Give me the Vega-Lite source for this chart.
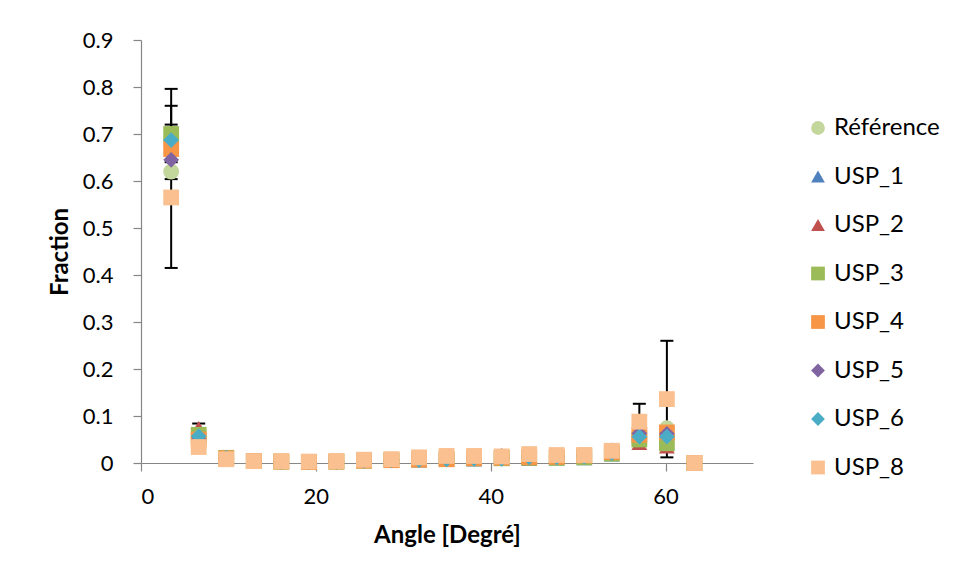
{
  "$schema": "https://vega.github.io/schema/vega-lite/v6.json",
  "autosize": {"type": "none"},
  "padding": {"left": 141, "top": 40, "right": 203, "bottom": 116},
  "width": 612,
  "height": 423,
  "background": "white",
  "config": {
    "view": {"stroke": null},
    "font": "Lato",
    "axis": {
      "domainColor": "#868686",
      "tickColor": "#868686",
      "domainWidth": 1.2,
      "tickWidth": 1.2,
      "tickSize": 8,
      "grid": false,
      "labelFont": "Lato",
      "labelFontSize": 22,
      "labelColor": "#000000",
      "titleFont": "Lato",
      "titleFontSize": 24,
      "titleFontWeight": "bold",
      "titleColor": "#000000"
    },
    "legend": {
      "labelFont": "Lato",
      "labelFontSize": 24,
      "labelColor": "#000000"
    }
  },
  "datasets": {
    "points": [
      {"series": "Référence", "angle": 3.45, "fraction": 0.62},
      {"series": "Référence", "angle": 6.6, "fraction": 0.05},
      {"series": "Référence", "angle": 9.75, "fraction": 0.01},
      {"series": "Référence", "angle": 12.9, "fraction": 0.004},
      {"series": "Référence", "angle": 16.05, "fraction": 0.003},
      {"series": "Référence", "angle": 19.2, "fraction": 0.002},
      {"series": "Référence", "angle": 22.35, "fraction": 0.003},
      {"series": "Référence", "angle": 25.5, "fraction": 0.005},
      {"series": "Référence", "angle": 28.65, "fraction": 0.006},
      {"series": "Référence", "angle": 31.8, "fraction": 0.007},
      {"series": "Référence", "angle": 34.95, "fraction": 0.009},
      {"series": "Référence", "angle": 38.1, "fraction": 0.01},
      {"series": "Référence", "angle": 41.25, "fraction": 0.011},
      {"series": "Référence", "angle": 44.4, "fraction": 0.013},
      {"series": "Référence", "angle": 47.55, "fraction": 0.012},
      {"series": "Référence", "angle": 50.7, "fraction": 0.014},
      {"series": "Référence", "angle": 53.85, "fraction": 0.022},
      {"series": "Référence", "angle": 57.0, "fraction": 0.055},
      {"series": "Référence", "angle": 60.15, "fraction": 0.074},
      {"series": "Référence", "angle": 63.3, "fraction": 0},
      {"series": "USP_1", "angle": 3.45, "fraction": 0.69},
      {"series": "USP_1", "angle": 6.6, "fraction": 0.055},
      {"series": "USP_1", "angle": 9.75, "fraction": 0.011},
      {"series": "USP_1", "angle": 12.9, "fraction": 0.004},
      {"series": "USP_1", "angle": 16.05, "fraction": 0.003},
      {"series": "USP_1", "angle": 19.2, "fraction": 0.002},
      {"series": "USP_1", "angle": 22.35, "fraction": 0.003},
      {"series": "USP_1", "angle": 25.5, "fraction": 0.004},
      {"series": "USP_1", "angle": 28.65, "fraction": 0.005},
      {"series": "USP_1", "angle": 31.8, "fraction": 0.005},
      {"series": "USP_1", "angle": 34.95, "fraction": 0.006},
      {"series": "USP_1", "angle": 38.1, "fraction": 0.007},
      {"series": "USP_1", "angle": 41.25, "fraction": 0.008},
      {"series": "USP_1", "angle": 44.4, "fraction": 0.008},
      {"series": "USP_1", "angle": 47.55, "fraction": 0.009},
      {"series": "USP_1", "angle": 50.7, "fraction": 0.01},
      {"series": "USP_1", "angle": 53.85, "fraction": 0.018},
      {"series": "USP_1", "angle": 57.0, "fraction": 0.055},
      {"series": "USP_1", "angle": 60.15, "fraction": 0.05},
      {"series": "USP_1", "angle": 63.3, "fraction": 0},
      {"series": "USP_2", "angle": 3.45, "fraction": 0.7},
      {"series": "USP_2", "angle": 6.6, "fraction": 0.075},
      {"series": "USP_2", "angle": 9.75, "fraction": 0.012},
      {"series": "USP_2", "angle": 12.9, "fraction": 0.004},
      {"series": "USP_2", "angle": 16.05, "fraction": 0.003},
      {"series": "USP_2", "angle": 19.2, "fraction": 0.002},
      {"series": "USP_2", "angle": 22.35, "fraction": 0.003},
      {"series": "USP_2", "angle": 25.5, "fraction": 0.005},
      {"series": "USP_2", "angle": 28.65, "fraction": 0.006},
      {"series": "USP_2", "angle": 31.8, "fraction": 0.008},
      {"series": "USP_2", "angle": 34.95, "fraction": 0.01},
      {"series": "USP_2", "angle": 38.1, "fraction": 0.011},
      {"series": "USP_2", "angle": 41.25, "fraction": 0.012},
      {"series": "USP_2", "angle": 44.4, "fraction": 0.013},
      {"series": "USP_2", "angle": 47.55, "fraction": 0.013},
      {"series": "USP_2", "angle": 50.7, "fraction": 0.017},
      {"series": "USP_2", "angle": 53.85, "fraction": 0.024},
      {"series": "USP_2", "angle": 57.0, "fraction": 0.042},
      {"series": "USP_2", "angle": 60.15, "fraction": 0.035},
      {"series": "USP_2", "angle": 63.3, "fraction": 0},
      {"series": "USP_3", "angle": 3.45, "fraction": 0.7},
      {"series": "USP_3", "angle": 6.6, "fraction": 0.06},
      {"series": "USP_3", "angle": 9.75, "fraction": 0.011},
      {"series": "USP_3", "angle": 12.9, "fraction": 0.004},
      {"series": "USP_3", "angle": 16.05, "fraction": 0.003},
      {"series": "USP_3", "angle": 19.2, "fraction": 0.002},
      {"series": "USP_3", "angle": 22.35, "fraction": 0.003},
      {"series": "USP_3", "angle": 25.5, "fraction": 0.005},
      {"series": "USP_3", "angle": 28.65, "fraction": 0.007},
      {"series": "USP_3", "angle": 31.8, "fraction": 0.008},
      {"series": "USP_3", "angle": 34.95, "fraction": 0.009},
      {"series": "USP_3", "angle": 38.1, "fraction": 0.01},
      {"series": "USP_3", "angle": 41.25, "fraction": 0.01},
      {"series": "USP_3", "angle": 44.4, "fraction": 0.011},
      {"series": "USP_3", "angle": 47.55, "fraction": 0.011},
      {"series": "USP_3", "angle": 50.7, "fraction": 0.012},
      {"series": "USP_3", "angle": 53.85, "fraction": 0.02},
      {"series": "USP_3", "angle": 57.0, "fraction": 0.05},
      {"series": "USP_3", "angle": 60.15, "fraction": 0.042},
      {"series": "USP_3", "angle": 63.3, "fraction": 0},
      {"series": "USP_4", "angle": 3.45, "fraction": 0.668},
      {"series": "USP_4", "angle": 6.6, "fraction": 0.05},
      {"series": "USP_4", "angle": 9.75, "fraction": 0.01},
      {"series": "USP_4", "angle": 12.9, "fraction": 0.004},
      {"series": "USP_4", "angle": 16.05, "fraction": 0.003},
      {"series": "USP_4", "angle": 19.2, "fraction": 0.002},
      {"series": "USP_4", "angle": 22.35, "fraction": 0.003},
      {"series": "USP_4", "angle": 25.5, "fraction": 0.005},
      {"series": "USP_4", "angle": 28.65, "fraction": 0.006},
      {"series": "USP_4", "angle": 31.8, "fraction": 0.007},
      {"series": "USP_4", "angle": 34.95, "fraction": 0.008},
      {"series": "USP_4", "angle": 38.1, "fraction": 0.01},
      {"series": "USP_4", "angle": 41.25, "fraction": 0.011},
      {"series": "USP_4", "angle": 44.4, "fraction": 0.012},
      {"series": "USP_4", "angle": 47.55, "fraction": 0.013},
      {"series": "USP_4", "angle": 50.7, "fraction": 0.016},
      {"series": "USP_4", "angle": 53.85, "fraction": 0.023},
      {"series": "USP_4", "angle": 57.0, "fraction": 0.06},
      {"series": "USP_4", "angle": 60.15, "fraction": 0.065},
      {"series": "USP_4", "angle": 63.3, "fraction": 0},
      {"series": "USP_5", "angle": 3.45, "fraction": 0.645},
      {"series": "USP_5", "angle": 6.6, "fraction": 0.05},
      {"series": "USP_5", "angle": 9.75, "fraction": 0.01},
      {"series": "USP_5", "angle": 12.9, "fraction": 0.004},
      {"series": "USP_5", "angle": 16.05, "fraction": 0.003},
      {"series": "USP_5", "angle": 19.2, "fraction": 0.002},
      {"series": "USP_5", "angle": 22.35, "fraction": 0.003},
      {"series": "USP_5", "angle": 25.5, "fraction": 0.005},
      {"series": "USP_5", "angle": 28.65, "fraction": 0.006},
      {"series": "USP_5", "angle": 31.8, "fraction": 0.008},
      {"series": "USP_5", "angle": 34.95, "fraction": 0.01},
      {"series": "USP_5", "angle": 38.1, "fraction": 0.013},
      {"series": "USP_5", "angle": 41.25, "fraction": 0.015},
      {"series": "USP_5", "angle": 44.4, "fraction": 0.014},
      {"series": "USP_5", "angle": 47.55, "fraction": 0.014},
      {"series": "USP_5", "angle": 50.7, "fraction": 0.016},
      {"series": "USP_5", "angle": 53.85, "fraction": 0.027},
      {"series": "USP_5", "angle": 57.0, "fraction": 0.063},
      {"series": "USP_5", "angle": 60.15, "fraction": 0.062},
      {"series": "USP_5", "angle": 63.3, "fraction": 0},
      {"series": "USP_6", "angle": 3.45, "fraction": 0.687},
      {"series": "USP_6", "angle": 6.6, "fraction": 0.057},
      {"series": "USP_6", "angle": 9.75, "fraction": 0.011},
      {"series": "USP_6", "angle": 12.9, "fraction": 0.004},
      {"series": "USP_6", "angle": 16.05, "fraction": 0.003},
      {"series": "USP_6", "angle": 19.2, "fraction": 0.002},
      {"series": "USP_6", "angle": 22.35, "fraction": 0.003},
      {"series": "USP_6", "angle": 25.5, "fraction": 0.005},
      {"series": "USP_6", "angle": 28.65, "fraction": 0.006},
      {"series": "USP_6", "angle": 31.8, "fraction": 0.006},
      {"series": "USP_6", "angle": 34.95, "fraction": 0.008},
      {"series": "USP_6", "angle": 38.1, "fraction": 0.009},
      {"series": "USP_6", "angle": 41.25, "fraction": 0.009},
      {"series": "USP_6", "angle": 44.4, "fraction": 0.012},
      {"series": "USP_6", "angle": 47.55, "fraction": 0.012},
      {"series": "USP_6", "angle": 50.7, "fraction": 0.013},
      {"series": "USP_6", "angle": 53.85, "fraction": 0.021},
      {"series": "USP_6", "angle": 57.0, "fraction": 0.056},
      {"series": "USP_6", "angle": 60.15, "fraction": 0.056},
      {"series": "USP_6", "angle": 63.3, "fraction": 0},
      {"series": "USP_8", "angle": 3.45, "fraction": 0.565},
      {"series": "USP_8", "angle": 6.6, "fraction": 0.034},
      {"series": "USP_8", "angle": 9.75, "fraction": 0.008},
      {"series": "USP_8", "angle": 12.9, "fraction": 0.004},
      {"series": "USP_8", "angle": 16.05, "fraction": 0.004},
      {"series": "USP_8", "angle": 19.2, "fraction": 0.003},
      {"series": "USP_8", "angle": 22.35, "fraction": 0.004},
      {"series": "USP_8", "angle": 25.5, "fraction": 0.007},
      {"series": "USP_8", "angle": 28.65, "fraction": 0.008},
      {"series": "USP_8", "angle": 31.8, "fraction": 0.012},
      {"series": "USP_8", "angle": 34.95, "fraction": 0.015},
      {"series": "USP_8", "angle": 38.1, "fraction": 0.015},
      {"series": "USP_8", "angle": 41.25, "fraction": 0.014},
      {"series": "USP_8", "angle": 44.4, "fraction": 0.019},
      {"series": "USP_8", "angle": 47.55, "fraction": 0.017},
      {"series": "USP_8", "angle": 50.7, "fraction": 0.017},
      {"series": "USP_8", "angle": 53.85, "fraction": 0.026},
      {"series": "USP_8", "angle": 57.0, "fraction": 0.088},
      {"series": "USP_8", "angle": 60.15, "fraction": 0.136},
      {"series": "USP_8", "angle": 63.3, "fraction": 0}
    ],
    "errors": [
      {"series": "USP_3", "angle": 3.45, "lo": 0.604, "hi": 0.796},
      {"series": "USP_2", "angle": 3.45, "lo": 0.64, "hi": 0.76},
      {"series": "USP_8", "angle": 3.45, "lo": 0.415, "hi": 0.72},
      {"series": "USP_2", "angle": 6.6, "lo": 0.066, "hi": 0.084},
      {"series": "USP_8", "angle": 57.0, "lo": 0.05, "hi": 0.126},
      {"series": "USP_8", "angle": 60.15, "lo": 0.012, "hi": 0.26}
    ]
  },
  "layer": [
    {
      "data": {"name": "errors"},
      "mark": {"type": "rule", "color": "#000000", "strokeWidth": 2},
      "encoding": {
        "x": {"field": "angle", "type": "quantitative", "scale": {"domain": [0, 70], "nice": false}},
        "y": {"field": "lo", "type": "quantitative", "scale": {"domain": [0, 0.9], "nice": false}},
        "y2": {"field": "hi"}
      }
    },
    {
      "data": {"name": "errors"},
      "mark": {"type": "tick", "color": "#000000", "orient": "horizontal", "size": 13, "thickness": 2, "opacity": 1},
      "encoding": {
        "x": {"field": "angle", "type": "quantitative"},
        "y": {"field": "lo", "type": "quantitative"}
      }
    },
    {
      "data": {"name": "errors"},
      "mark": {"type": "tick", "color": "#000000", "orient": "horizontal", "size": 13, "thickness": 2, "opacity": 1},
      "encoding": {
        "x": {"field": "angle", "type": "quantitative"},
        "y": {"field": "hi", "type": "quantitative"}
      }
    },
    {
      "data": {"name": "points"},
      "mark": {"type": "point", "filled": true, "opacity": 1, "size": 250, "strokeWidth": 0},
      "encoding": {
        "x": {
          "field": "angle", "type": "quantitative",
          "scale": {"domain": [0, 70], "nice": false},
          "axis": {"values": [0, 20, 40, 60], "title": "Angle [Degré]", "labelPadding": 15, "titlePadding": 16}
        },
        "y": {
          "field": "fraction", "type": "quantitative",
          "scale": {"domain": [0, 0.9], "nice": false},
          "axis": {
            "values": [0, 0.1, 0.2, 0.3, 0.4, 0.5, 0.6, 0.7, 0.8, 0.9],
            "labelExpr": "datum.value == 0 ? '0' : format(datum.value, '.1f')",
            "title": "Fraction",
            "labelPadding": 20,
            "titlePadding": 10
          }
        },
        "color": {
          "field": "series", "type": "nominal",
          "scale": {
            "domain": ["Référence", "USP_1", "USP_2", "USP_3", "USP_4", "USP_5", "USP_6", "USP_8"],
            "range": ["#C3D69B", "#4F81BD", "#C0504D", "#9BBB59", "#F79646", "#8064A2", "#4BACC6", "#FAC090"]
          },
          "legend": {
            "title": null,
            "orient": "none",
            "legendX": 665,
            "legendY": 76,
            "padding": 0,
            "rowPadding": 24.5,
            "symbolSize": 190,
            "labelOffset": 4,
            "symbolStrokeWidth": 0
          }
        },
        "shape": {
          "field": "series", "type": "nominal",
          "scale": {
            "domain": ["Référence", "USP_1", "USP_2", "USP_3", "USP_4", "USP_5", "USP_6", "USP_8"],
            "range": ["circle", "triangle-up", "triangle-up", "square", "square", "diamond", "diamond", "square"]
          },
          "legend": {
            "title": null,
            "orient": "none",
            "legendX": 665,
            "legendY": 76,
            "padding": 0,
            "rowPadding": 24.5,
            "symbolSize": 190,
            "labelOffset": 4,
            "symbolStrokeWidth": 0
          }
        }
      }
    }
  ]
}
